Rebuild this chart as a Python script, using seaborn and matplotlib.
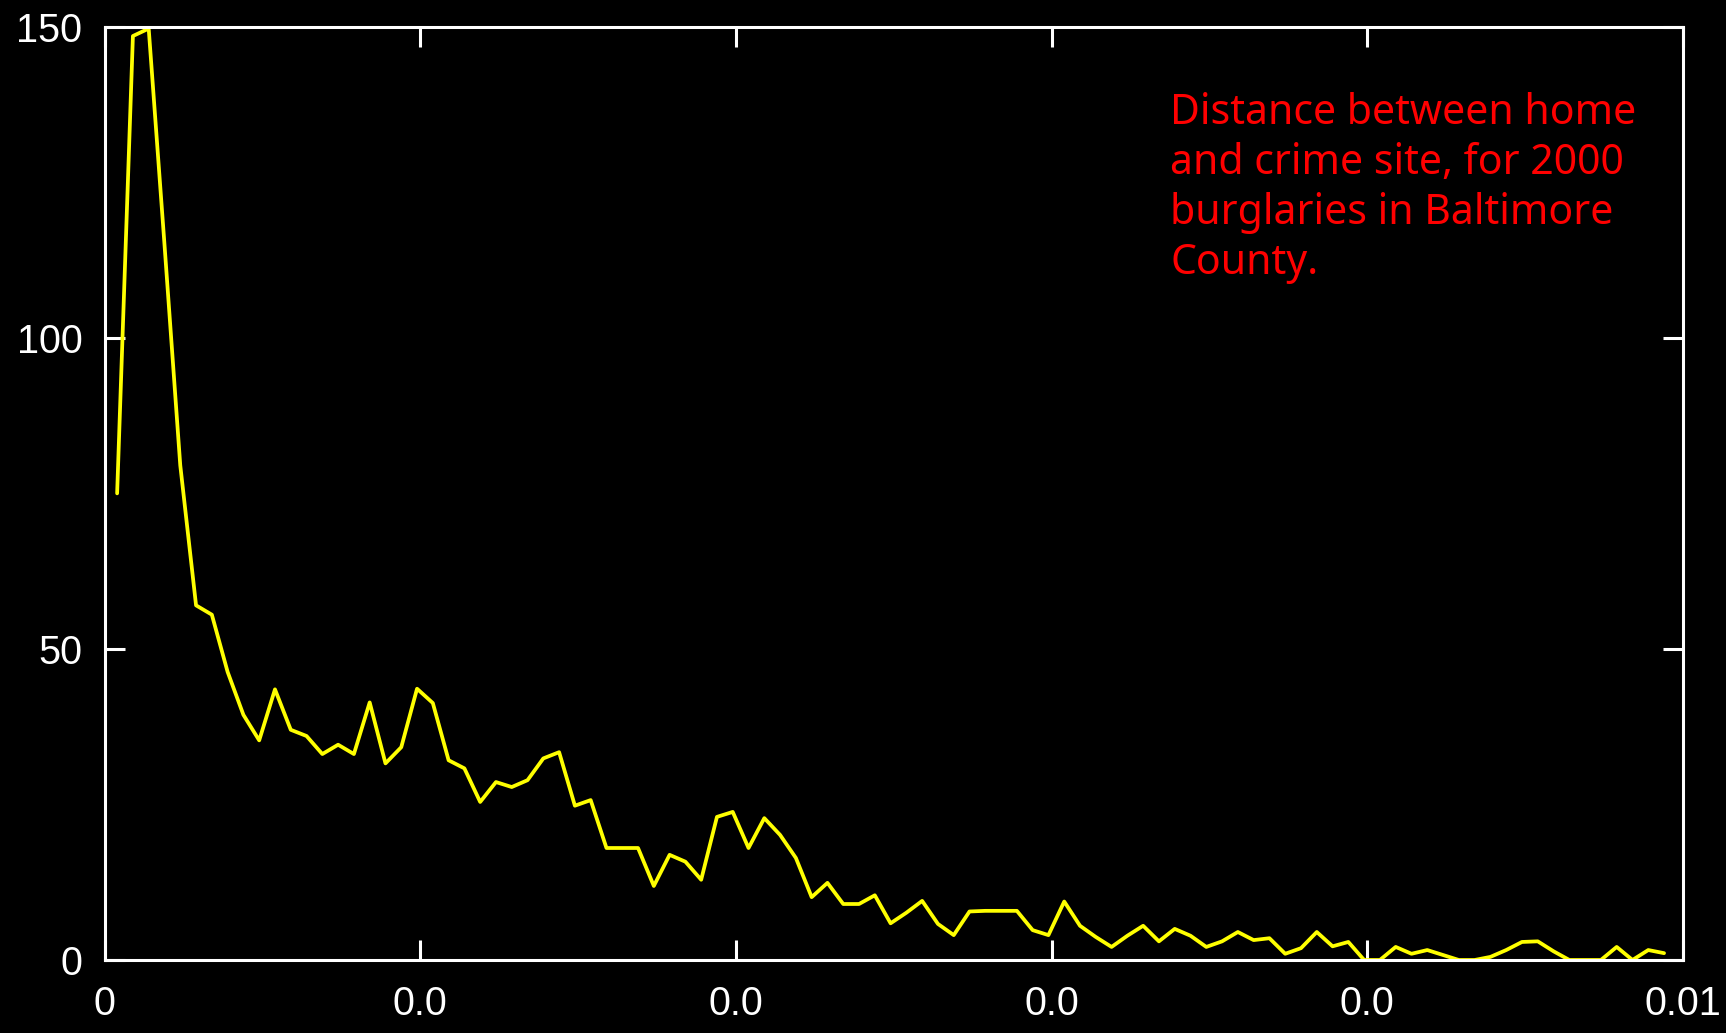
import numpy as np
import pandas as pd
import matplotlib
matplotlib.use("Agg")
import matplotlib.pyplot as plt
import seaborn as sns

# Burglary counts per distance bin (home to crime site), 2000 burglaries
bin_width = 0.0001
first_bin = 0.00008
counts = [
    75.0, 148.5, 149.7, 115.0, 79.5, 57.0, 55.5, 46.3, 39.4, 35.3,
    43.5, 37.0, 36.0, 33.1, 34.6, 33.1, 41.4, 31.6, 34.2, 43.6,
    41.3, 32.1, 30.8, 25.4, 28.6, 27.8, 28.9, 32.4, 33.4, 24.8,
    25.7, 18.0, 18.0, 18.0, 11.9, 16.9, 15.8, 12.9, 23.0, 23.8,
    18.0, 22.8, 20.1, 16.4, 10.1, 12.4, 9.0, 9.0, 10.4, 5.9,
    7.6, 9.5, 5.8, 4.0, 7.8, 7.9, 7.9, 7.9, 4.8, 4.0,
    9.4, 5.5, 3.7, 2.1, 3.9, 5.5, 3.0, 5.0, 3.9, 2.1,
    3.0, 4.5, 3.2, 3.5, 1.0, 1.9, 4.5, 2.2, 2.9, 0.0,
    0.0, 2.1, 1.0, 1.6, 0.8, 0.0, 0.0, 0.5, 1.6, 2.9,
    3.0, 1.4, 0.0, 0.0, 0.0, 2.1, 0.0, 1.6, 1.1,
]
distance = first_bin + bin_width * np.arange(len(counts))

x_ticks = [0, 0.002, 0.004, 0.006, 0.008, 0.01]
x_tick_labels = ["0", "0.0", "0.0", "0.0", "0.0", "0.01"]
y_ticks = [0, 50, 100, 150]
y_tick_labels = ["0", "50", "100", "150"]

note = "Distance between home\nand crime site, for 2000\nburglaries in Baltimore\nCounty."

df = pd.DataFrame({"distance": distance, "count": counts})

sns.set_theme(style="white")
plt.rcParams["font.family"] = ["Liberation Sans", "DejaVu Sans"]

fig = plt.figure(figsize=(17.26, 10.33), dpi=100, facecolor="black")
ax = fig.add_axes([104.5 / 1726, 1 - 960 / 1033, (1683 - 104.5) / 1726, (960 - 26.7) / 1033])
ax.set_facecolor("black")

sns.lineplot(data=df, x="distance", y="count", color="#ffff00", linewidth=2.7,
             sort=False, estimator=None, ax=ax)

ax.set_xlim(0, 0.01)
ax.set_ylim(0, 150)
ax.set_xticks(x_ticks)
ax.set_xticklabels(x_tick_labels)
ax.set_yticks(y_ticks)
ax.set_yticklabels(y_tick_labels)
ax.set_xlabel("")
ax.set_ylabel("")

for side in ["left", "right", "top", "bottom"]:
    ax.spines[side].set_visible(True)
    ax.spines[side].set_color("white")
    ax.spines[side].set_linewidth(2.2)

ax.tick_params(axis="both", which="major", direction="in", length=14.5, width=2.2,
               color="white", labelcolor="white", labelsize=28.5,
               top=True, right=True, bottom=True, left=True,
               labeltop=False, labelright=False)
ax.tick_params(axis="x", pad=18)
ax.tick_params(axis="y", pad=16)

fig.text(1170 / 1726, 1 - 92 / 1033, note, color="#ff0000", fontsize=29.5,
         family=["Noto Sans", "DejaVu Sans"], ha="left", va="top", linespacing=1.25)

fig.savefig("out.png", dpi=100, facecolor="black")
